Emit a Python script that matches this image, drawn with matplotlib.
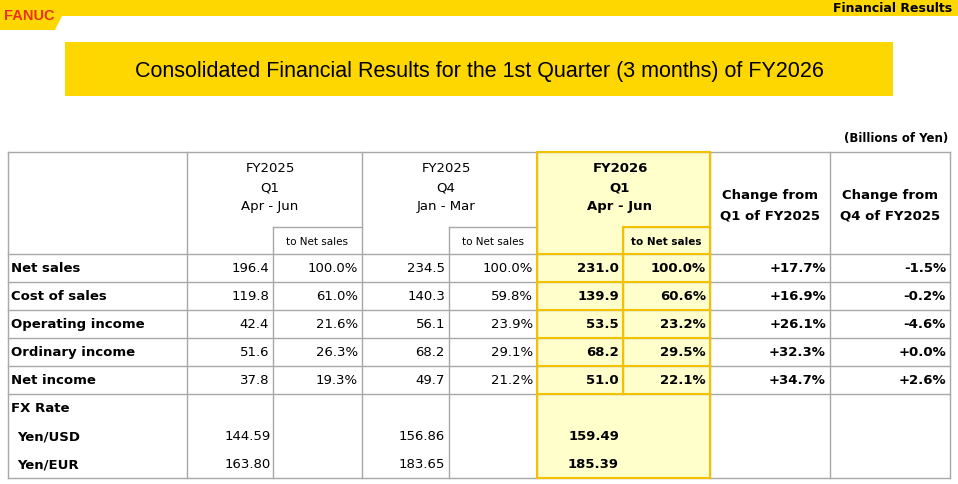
import matplotlib.pyplot as plt
from matplotlib.patches import Rectangle, Polygon

rows = ["Net sales", "Cost of sales", "Operating income", "Ordinary income", "Net income"]
q1_2025 = ["196.4", "119.8", "42.4", "51.6", "37.8"]
q1_2025_pct = ["100.0%", "61.0%", "21.6%", "26.3%", "19.3%"]
q4_2025 = ["234.5", "140.3", "56.1", "68.2", "49.7"]
q4_2025_pct = ["100.0%", "59.8%", "23.9%", "29.1%", "21.2%"]
q1_2026 = ["231.0", "139.9", "53.5", "68.2", "51.0"]
q1_2026_pct = ["100.0%", "60.6%", "23.2%", "29.5%", "22.1%"]
chg_q1 = ["+17.7%", "+16.9%", "+26.1%", "+32.3%", "+34.7%"]
chg_q4 = ["-1.5%", "-0.2%", "-4.6%", "+0.0%", "+2.6%"]
fx_rows = ["Yen/USD", "Yen/EUR"]
fx_q1_2025 = ["144.59", "163.80"]
fx_q4_2025 = ["156.86", "183.65"]
fx_q1_2026 = ["159.49", "185.39"]

YEL = "#FFD700"
GOLD = "#F2C200"
LITE = "#FFFFCC"
GRID = "#A8A8A8"
FONT = "DejaVu Sans"

fig = plt.figure(figsize=(9.58, 4.85), dpi=100)
ax = fig.add_axes([0, 0, 1, 1])
ax.set_xlim(0, 958)
ax.set_ylim(485, 0)
ax.axis("off")

# top banner
ax.add_patch(Rectangle((0, 0), 958, 17, color=YEL, lw=0))
ax.add_patch(Polygon([(0, 0), (62, 0), (62, 17), (55, 31), (0, 31)], color=YEL, lw=0))
ax.text(4, 16, "FANUC", color="#E8331C", fontsize=10.5, fontweight="bold",
        family="Liberation Sans", va="center")
ax.text(952, 9, "Financial Results", fontsize=9, fontweight="bold", family=FONT,
        ha="right", va="center")

# title box
ax.add_patch(Rectangle((65, 43), 828, 54, color=YEL, lw=0))
ax.text(479, 71, "Consolidated Financial Results for the 1st Quarter (3 months) of FY2026",
        fontsize=15.5, family="Liberation Sans", ha="center", va="center")
ax.text(948, 139, "(Billions of Yen)", fontsize=8.5, fontweight="bold", family=FONT,
        ha="right", va="center")

xs = [8, 187, 273, 362, 449, 537, 623, 710, 830, 950]
top, sub, hdr = 153, 228, 255
rh = 28
bottom = hdr + rh * 8

# highlighted column
ax.add_patch(Rectangle((537, top), 173, bottom - top, facecolor=LITE, lw=0, zorder=0))

# grid lines
for y in [top, hdr] + [hdr + rh * k for k in range(1, 6)] + [bottom]:
    ax.plot([8, 950], [y, y], color=GRID, lw=1, zorder=1)
for x in xs:
    y0 = sub if x in (273, 449, 623) else top
    y1 = hdr + rh * 5 if x == 623 else bottom
    ax.plot([x, x], [y0, y1], color=GRID, lw=1, zorder=1)
for x0, x1 in [(273, 362), (449, 537), (623, 710)]:
    ax.plot([x0, x1], [sub, sub], color=GRID, lw=1, zorder=1)
# gold border
ax.add_patch(Rectangle((537, top), 173, bottom - top, fill=False, ec=GOLD, lw=1.5, zorder=3))
ax.plot([623, 623], [sub, hdr + rh * 5], color=GOLD, lw=1.5, zorder=3)
ax.plot([623, 710], [sub, sub], color=GOLD, lw=1.5, zorder=3)
for k in range(0, 6):
    ax.plot([537, 710], [hdr + rh * k, hdr + rh * k], color=GOLD, lw=1.5, zorder=3)

fs = 9.5
# headers
for cx, lines, bold in [(273, ["FY2025", "Q1", "Apr - Jun"], False),
                        (449, ["FY2025", "Q4", "Jan - Mar"], False),
                        (623, ["FY2026", "Q1", "Apr - Jun"], True)]:
    for j, t in enumerate(lines):
        ax.text(cx - 3, 169 + j * 19, t, fontsize=fs, family=FONT, ha="center", va="center",
                fontweight="bold" if bold else "normal")
for x0, x1, bold in [(273, 362, False), (449, 537, False), (623, 710, True)]:
    ax.text((x0 + x1) / 2, 242, "to Net sales", fontsize=7.5, family=FONT, ha="center",
            va="center", fontweight="bold" if bold else "normal")
for cx, lines in [(770, ["Change from", "Q1 of FY2025"]), (890, ["Change from", "Q4 of FY2025"])]:
    for j, t in enumerate(lines):
        ax.text(cx, 196 + j * 20, t, fontsize=fs, family=FONT, ha="center", va="center",
                fontweight="bold")

# body
for i, name in enumerate(rows):
    y = hdr + rh * i + rh / 2
    ax.text(11, y, name, fontsize=fs, fontweight="bold", family=FONT, va="center")
    vals = [q1_2025[i], q1_2025_pct[i], q4_2025[i], q4_2025_pct[i],
            q1_2026[i], q1_2026_pct[i], chg_q1[i], chg_q4[i]]
    for j, v in enumerate(vals):
        ax.text(xs[j + 2] - 4, y, v, fontsize=fs, family=FONT, ha="right", va="center",
                fontweight="bold" if j >= 4 else "normal")

y = hdr + rh * 5 + rh / 2
ax.text(11, y, "FX Rate", fontsize=fs, fontweight="bold", family=FONT, va="center")
for i, name in enumerate(fx_rows):
    y = hdr + rh * (6 + i) + rh / 2
    ax.text(17, y, name, fontsize=fs, fontweight="bold", family=FONT, va="center")
    ax.text(271, y, fx_q1_2025[i], fontsize=fs, family=FONT, ha="right", va="center")
    ax.text(445, y, fx_q4_2025[i], fontsize=fs, family=FONT, ha="right", va="center")
    ax.text(619, y, fx_q1_2026[i], fontsize=fs, family=FONT, ha="right", va="center",
            fontweight="bold")

fig.savefig("out.png", dpi=100)
